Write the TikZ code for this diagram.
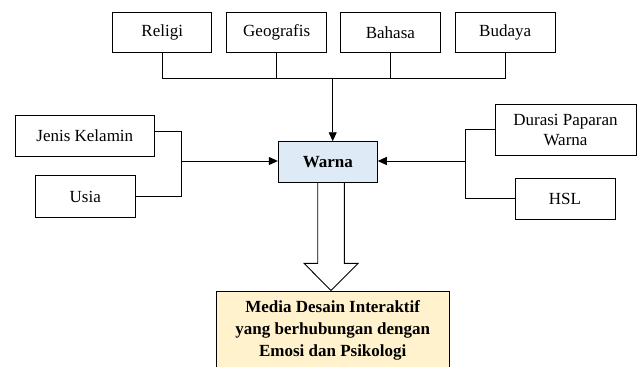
\documentclass[tikz,border=0pt]{standalone}
\usepackage{fontspec}
\setmainfont{Liberation Serif}
\usetikzlibrary{arrows.meta}
\definecolor{warnafill}{HTML}{DEEAF6}
\definecolor{mediafill}{HTML}{FFF2CC}
\begin{document}
\begin{tikzpicture}[x=1pt,y=-1pt,
  box/.style={draw=black,line width=0.9pt,fill=white,inner sep=0pt,align=center,
    font=\fontsize{17}{20}\selectfont},
  conn/.style={draw=black,line width=0.9pt},
  arr/.style={conn,-{Triangle[length=9pt,width=8pt]}}]
\useasboundingbox (0,0) rectangle (643,367);
% top boxes
\node[box,minimum width=99pt,minimum height=40.4pt] (religi) at (162.2,32.5) {Religi};
\node[box,minimum width=100pt,minimum height=40.4pt] (geo) at (276.7,32.5) {Geografis};
\node[box,minimum width=99.3pt,minimum height=40.4pt] (bahasa) at (390.4,32.5) {Bahasa};
\node[box,minimum width=99.7pt,minimum height=40.4pt] (budaya) at (505.2,32.5) {Budaya};
% centre
\node[box,fill=warnafill,minimum width=99pt,minimum height=41pt,font=\fontsize{17}{20}\selectfont\bfseries] (warna) at (327.8,162.2) {Warna};
% left
\node[box,minimum width=139pt,minimum height=41.7pt] (jk) at (84.8,135.8) {Jenis Kelamin};
\node[box,minimum width=99.3pt,minimum height=41.6pt] (usia) at (85.3,196.5) {Usia};
% right
\node[box,minimum width=141pt,minimum height=51.7pt] (durasi) at (565.5,129.8) {Durasi Paparan\\Warna};
\node[box,minimum width=100pt,minimum height=41pt] (hsl) at (565,198.8) {HSL};
% top bus
\coordinate (bus) at (332.7,78.3);
\draw[conn] (religi.south) |- (bus);
\draw[conn] (budaya.south) |- (bus);
\draw[conn] (geo.south) -- (geo.south |- bus);
\draw[conn] (bahasa.south) -- (bahasa.south |- bus);
\draw[arr] (bus) -- (bus |- warna.north);
% left connectors
\coordinate (lj) at (181,161);
\draw[conn] ([yshift=4.8pt]jk.east) -| (lj);
\draw[conn] (usia.east) -| (lj);
\draw[arr] (lj) -- (lj -| warna.west);
% right connectors
\coordinate (rj) at (465,161);
\draw[conn] (durasi.west) -| (rj);
\draw[conn] (hsl.west) -| (rj);
\draw[arr] (rj) -- (rj -| warna.east);
% bottom box
\draw[line width=0.9pt,fill=mediafill] (216,372) -- (216,291) -- (449.3,291) -- (449.3,372);
\node[align=center,inner sep=0pt,font=\fontsize{17}{21.7}\selectfont\bfseries] (media) at (332.7,330.5)
  {Media Desain Interaktif\\yang berhubungan dengan\\Emosi dan Psikologi};
% hollow arrow
\draw[line width=0.9pt,fill=white] (317.7,183) -- (317.7,263.3) -- (304,263.3) -- (331,290.5)
  -- (358.3,263.3) -- (344.3,263.3) -- (344.3,183);
\end{tikzpicture}
\end{document}
